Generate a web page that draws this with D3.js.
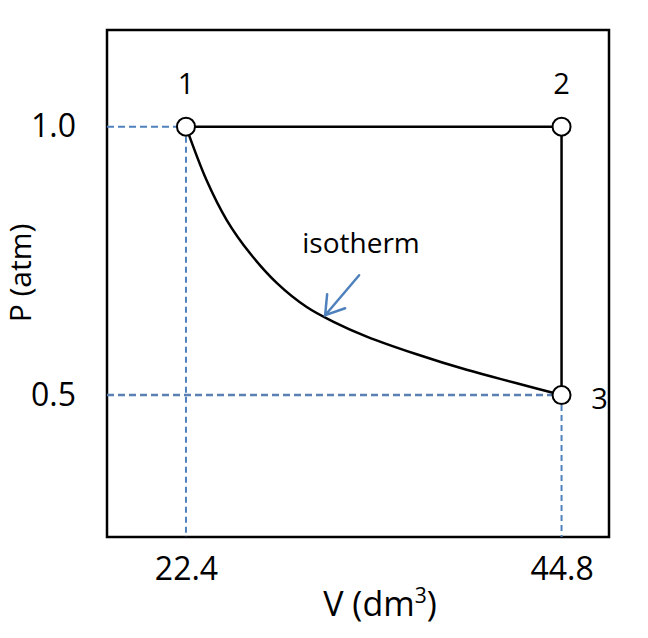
<!DOCTYPE html>
<html><head><meta charset="utf-8">
<script src="https://cdn.jsdelivr.net/npm/d3@7"></script>
<style>body{margin:0;background:#fff}</style>
</head><body>
<svg id="c" width="648" height="638"></svg>
<script>
// Data
const xTicks = [22.4, 44.8];
const yTicks = [0.5, 1.0];
const states = [
  {name: "1", V: 22.4, P: 1.0},
  {name: "2", V: 44.8, P: 1.0},
  {name: "3", V: 44.8, P: 0.5}
];
const isoV = [22.4, 23.63, 24.83, 26.22, 27.81, 29.60, 31.17, 33.18, 36.16, 39.14, 42.13, 44.8];
const isoP = [1.0, 0.900, 0.826, 0.764, 0.709, 0.664, 0.637, 0.609, 0.576, 0.547, 0.522, 0.5];
const curveLabel = "isotherm";
const xTitle = "V (dm";
const yTitle = "P (atm)";

const svg = d3.select("#c");
const x = d3.scaleLinear().domain([17.69, 47.63]).range([107, 609]);
const y = d3.scaleLinear().domain([0.2356, 1.18]).range([537, 30]);
const font = "'Open Sans', sans-serif";
const blue = "#4f81bd";

// frame
svg.append("rect").attr("x", x.range()[0]).attr("y", y.range()[1])
  .attr("width", x.range()[1] - x.range()[0]).attr("height", y.range()[0] - y.range()[1])
  .attr("fill", "none").attr("stroke", "#000").attr("stroke-width", 2.5);

// axes
const gx = svg.append("g").attr("transform", `translate(0,${y.range()[0]})`)
  .call(d3.axisBottom(x).tickValues(xTicks).tickSize(0).tickPadding(20).tickFormat(d3.format(".1f")));
const gy = svg.append("g").attr("transform", `translate(${x.range()[0]},0)`)
  .call(d3.axisLeft(y).tickValues(yTicks).tickSize(0).tickPadding(31).tickFormat(d3.format(".1f")));
[gx, gy].forEach(g => {
  g.select(".domain").remove();
  g.selectAll("text").attr("font-family", font).attr("font-size", 32).attr("fill", "#000");
});

// dashed guides
const s1 = states[0], s3 = states[2];
[s1, s3].forEach((s, i) => {
  svg.append("line").attr("x1", x.range()[0]).attr("x2", x(s.V)).attr("y1", y(s.P)).attr("y2", y(s.P))
    .attr("stroke", i ? "#5a80b4" : blue).attr("stroke-width", i ? 2.5 : 2).attr("stroke-dasharray", "7,4");
  svg.append("line").attr("x1", x(s.V)).attr("x2", x(s.V)).attr("y1", y(s.P)).attr("y2", y.range()[0])
    .attr("stroke", blue).attr("stroke-width", 2).attr("stroke-dasharray", "6,4");
});

// process lines
const line = d3.line().x(d => x(d.V)).y(d => y(d.P));
svg.append("path").datum([states[0], states[1], states[2]]).attr("d", line)
  .attr("fill", "none").attr("stroke", "#000").attr("stroke-width", 2.5);
const iso = isoV.map((v, i) => ({V: v, P: isoP[i]}));
svg.append("path").datum(iso).attr("d", d3.line().x(d => x(d.V)).y(d => y(d.P)).curve(d3.curveCatmullRom.alpha(0.5)))
  .attr("fill", "none").attr("stroke", "#000").attr("stroke-width", 2.5);

// circles
svg.selectAll("circle.st").data(states).join("circle").attr("class", "st")
  .attr("cx", d => x(d.V)).attr("cy", d => y(d.P)).attr("r", 9)
  .attr("fill", "#fff").attr("stroke", "#000").attr("stroke-width", 2);

// state labels
svg.selectAll("text.st").data(states).join("text").attr("class", "st")
  .attr("x", (d, i) => i < 2 ? x(d.V) : x(d.V) + 38)
  .attr("y", (d, i) => i < 2 ? y(d.P) - 33 : y(d.P) + 14)
  .attr("text-anchor", "middle").attr("font-family", font).attr("font-size", 29).text(d => d.name);

// isotherm label + arrow
svg.append("text").attr("x", 361).attr("y", 253).attr("text-anchor", "middle")
  .attr("font-family", font).attr("font-size", 28).text(curveLabel);
const tip = [x(30.7), y(0.645) - 2];
svg.append("path").attr("d", `M${tip[0] + 34},${tip[1] - 40} L${tip[0]},${tip[1]} M${tip[0] + 2},${tip[1] - 21} L${tip[0]},${tip[1]} L${tip[0] + 20},${tip[1] - 7}`)
  .attr("fill", "none").attr("stroke", blue).attr("stroke-width", 2.5).attr("stroke-linecap", "round");

// axis titles
const xt = svg.append("text").attr("x", 380).attr("y", 616).attr("text-anchor", "middle")
  .attr("font-family", font).attr("font-size", 34).text(xTitle);
xt.append("tspan").attr("font-size", 21).attr("dy", -13).text("3");
xt.append("tspan").attr("dy", 13).text(")");
svg.append("text").attr("transform", "translate(31,273) rotate(-90)").attr("text-anchor", "middle")
  .attr("font-family", font).attr("font-size", 30).text(yTitle);
</script>
</body></html>
